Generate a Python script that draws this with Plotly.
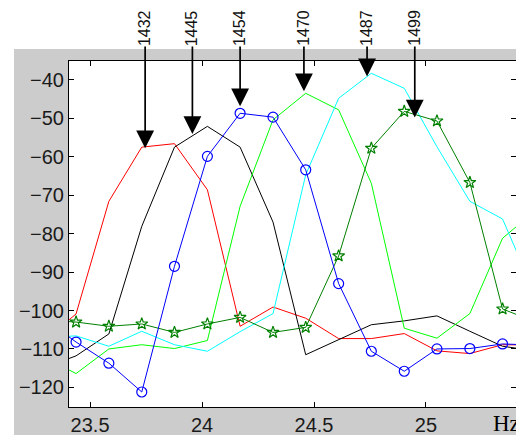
import plotly.graph_objects as go

# frequency axis (Hz)
freq = [23.291, 23.4375, 23.584, 23.731, 23.877, 24.024, 24.170, 24.317,
        24.463, 24.610, 24.756, 24.903, 25.049, 25.196, 25.342, 25.489]

red_vals = [-108, -100.9, -71.6, -57.5, -56.6, -68.6, -104.1, -99.1,
            -102.0, -107.3, -107.3, -106.0, -110.5, -111.2, -108.9, -109]
black_vals = [-115, -111.8, -106.1, -78.1, -57.5, -52.1, -57.5, -77.0,
              -111.5, -107.6, -103.7, -102.7, -101.4, -105.4, -109.3, -110.5]
blue_vals = [-102, -108.2, -113.7, -121.2, -88.5, -59.9, -48.7, -49.7,
             -63.4, -93.0, -110.6, -115.8, -110.0, -109.9, -108.7, -109]
lime_vals = [-112, -116.4, -110.0, -108.9, -109.9, -107.8, -72.9, -50.4,
             -43.5, -47.8, -66.9, -104.6, -107.2, -100.8, -81.2, -74]
cyan_vals = [-107, -106.6, -109.3, -105.4, -108.9, -110.6, -105.5, -100.8,
             -64.7, -44.8, -38.3, -42.2, -57.4, -71.6, -76.2, -96]
dgreen_vals = [-102.5, -103.0, -104.1, -103.5, -105.7, -103.5, -101.8, -105.7,
               -104.4, -85.8, -57.8, -48.2, -50.7, -66.7, -99.6, -103]

# peak labels (arrows)
peak_labels = ["1432", "1445", "1454", "1470", "1487", "1499"]
peak_x = [23.746, 23.957, 24.170, 24.455, 24.737, 24.950]
peak_y = [-57.8, -54.1, -46.9, -43.0, -39.1, -49.8]
label_y = -26.5

x_ticks = [23.5, 24, 24.5, 25]
y_ticks = [-120, -110, -100, -90, -80, -70, -60, -50, -40]

fig = go.Figure()

series = [
    (red_vals, "#ff0000", None),
    (black_vals, "#000000", None),
    (lime_vals, "#00ff00", None),
    (cyan_vals, "#00ffff", None),
    (dgreen_vals, "#008000", "star-open"),
    (blue_vals, "#0000ff", "circle-open"),
]
for vals, col, sym in series:
    if sym:
        fig.add_trace(go.Scatter(
            x=freq, y=vals, mode="lines+markers",
            line=dict(color=col, width=1),
            marker=dict(symbol=sym, size=10 if sym == "circle-open" else 9,
                        color=col, line=dict(color=col, width=1.2)),
            showlegend=False, hoverinfo="skip"))
    else:
        fig.add_trace(go.Scatter(
            x=freq, y=vals, mode="lines",
            line=dict(color=col, width=1),
            showlegend=False, hoverinfo="skip"))

for lab, px, py in zip(peak_labels, peak_x, peak_y):
    fig.add_annotation(
        x=px, y=py, xref="x", yref="y",
        ax=px, ay=label_y, axref="x", ayref="y",
        text=lab, textangle=-90, showarrow=True,
        arrowhead=2, arrowsize=2.1, arrowwidth=1.7, arrowcolor="black",
        standoff=0, borderpad=0,
        font=dict(family="Liberation Sans, Arial", size=16, color="#111111"))

fig.add_annotation(
    text="Hz", xref="paper", yref="paper", x=0.944, y=-0.049,
    xanchor="left", yanchor="middle", showarrow=False,
    font=dict(family="Liberation Serif, Times New Roman", size=23, color="black"))

# white strips outside the grey figure area
fig.add_shape(type="rect", xref="paper", yref="paper",
              x0=-0.2, x1=1.05, y0=1.0347, y1=1.2,
              fillcolor="white", line=dict(width=0), layer="below")
fig.add_shape(type="rect", xref="paper", yref="paper",
              x0=-0.2, x1=-0.1230, y0=-0.2, y1=1.2,
              fillcolor="white", line=dict(width=0), layer="below")

axis_common = dict(
    showline=True, linecolor="black", linewidth=1, mirror="ticks",
    ticks="inside", ticklen=5, tickcolor="black", tickwidth=1,
    showgrid=False, zeroline=False, automargin=False,
    tickfont=dict(family="Liberation Sans, Arial", size=20, color="#1a1a1a"),
)

fig.update_xaxes(range=[23.406, 25.402], tickvals=x_ticks,
                 ticktext=[str(t) for t in x_ticks], **axis_common)
fig.update_yaxes(range=[-125.1, -35.1], tickvals=y_ticks, **axis_common)

fig.update_layout(
    width=516, height=435,
    margin=dict(l=69, r=0, t=61, b=28, pad=0, autoexpand=False),
    paper_bgcolor="#cccccc", plot_bgcolor="white",
)

fig.write_html(
    "out.html",
    config={"displayModeBar": False},
    post_script="document.body.style.margin='0';document.body.style.overflow='hidden';",
)
